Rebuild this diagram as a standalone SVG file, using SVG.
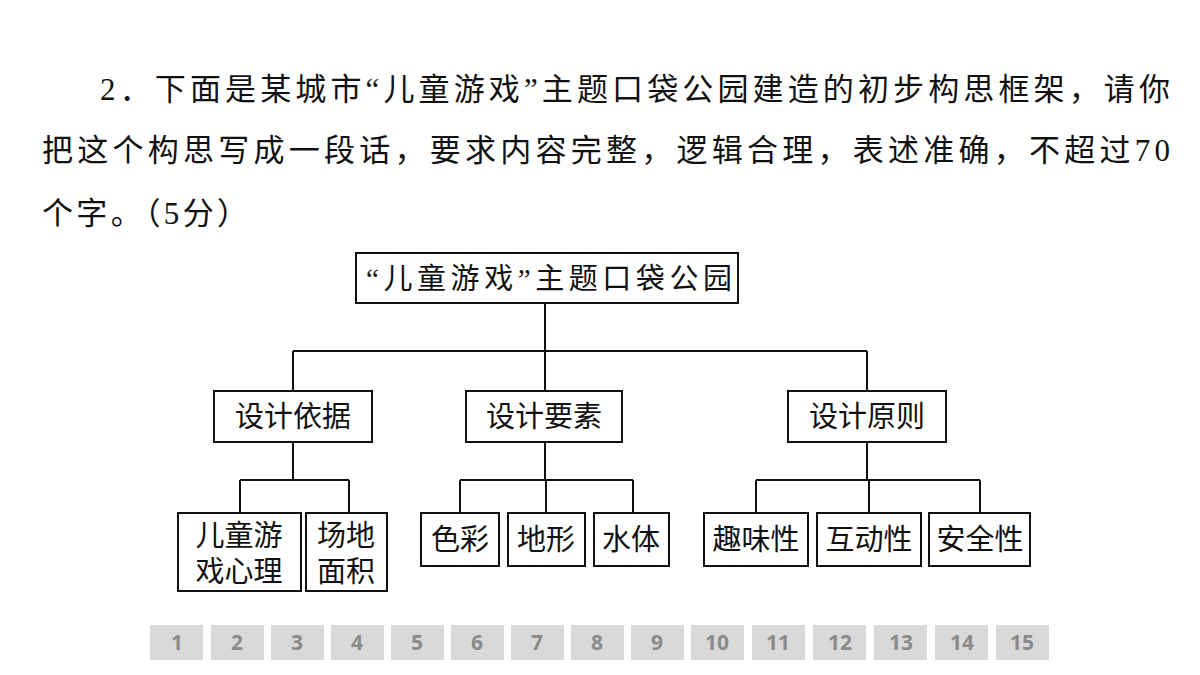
<svg xmlns="http://www.w3.org/2000/svg" width="1200" height="675" viewBox="0 0 1200 675">
<style>
.q{font-family:"Liberation Serif","Noto Sans CJK SC",serif;font-size:31px;fill:#111}
.n{font-family:"Liberation Serif","Noto Sans CJK SC",serif;font-size:29px;fill:#111;text-anchor:middle}
.b{fill:#fff;stroke:#111;stroke-width:2}
.c{fill:none;stroke:#111;stroke-width:2}
.p{fill:#d9d9d9}
.pt{font-family:"Open Sans","DejaVu Sans",sans-serif;font-size:21px;font-weight:bold;fill:#8a8a8a;text-anchor:middle}
</style>
<rect width="1200" height="675" fill="#fff"/>
<text class="q" x="100" y="100" textLength="1070" lengthAdjust="spacing">2．下面是某城市“儿童游戏”主题口袋公园建造的初步构思框架，请你</text>
<text class="q" x="42" y="161" textLength="1128" lengthAdjust="spacing">把这个构思写成一段话，要求内容完整，逻辑合理，表述准确，不超过70</text>
<text class="q" x="42" y="224" textLength="206" lengthAdjust="spacing">个字。（5分）</text>
<g id="connectors">
<path class="c" d="M545 303V351M293 351H867M293 351V391M545 351V391M867 351V391"/>
<path class="c" d="M293 442V480M240 480H349M240 480V513M349 480V513"/>
<path class="c" d="M545 442V480M460 480H633M460 480V513M546 480V513M633 480V513"/>
<path class="c" d="M867 442V480M756 480H980M756 480V513M869 480V513M980 480V513"/>
</g>
<g id="root"><rect class="b" x="356" y="253" width="382" height="50"/><text class="n" x="366" y="289" style="text-anchor:start" textLength="366" lengthAdjust="spacing">“儿童游戏”主题口袋公园</text></g>
<g id="n1"><rect class="b" x="214" y="391" width="158" height="51"/><text class="n" x="293" y="427">设计依据</text></g>
<g id="n2"><rect class="b" x="466" y="391" width="156" height="51"/><text class="n" x="544" y="427">设计要素</text></g>
<g id="n3"><rect class="b" x="788" y="391" width="158" height="51"/><text class="n" x="867" y="427">设计原则</text></g>
<g id="l1"><rect class="b" x="178" y="513" width="123" height="78"/><text class="n" x="239" y="546">儿童游</text><text class="n" x="239" y="582">戏心理</text></g>
<g id="l2"><rect class="b" x="306" y="513" width="81" height="78"/><text class="n" x="346" y="546">场地</text><text class="n" x="346" y="582">面积</text></g>
<g id="l3"><rect class="b" x="421" y="513" width="78" height="53"/><text class="n" x="460" y="550">色彩</text></g>
<g id="l4"><rect class="b" x="508" y="513" width="77" height="53"/><text class="n" x="546" y="550">地形</text></g>
<g id="l5"><rect class="b" x="594" y="513" width="75" height="53"/><text class="n" x="631" y="550">水体</text></g>
<g id="l6"><rect class="b" x="704" y="513" width="104" height="53"/><text class="n" x="756" y="550">趣味性</text></g>
<g id="l7"><rect class="b" x="817" y="513" width="104" height="53"/><text class="n" x="869" y="550">互动性</text></g>
<g id="l8"><rect class="b" x="929" y="513" width="101" height="53"/><text class="n" x="980" y="550">安全性</text></g>
<g id="pages">
<rect class="p" x="150" y="625" width="53" height="35"/><text class="pt" x="177" y="650">1</text>
<rect class="p" x="211" y="625" width="53" height="35"/><text class="pt" x="237" y="650">2</text>
<rect class="p" x="271" y="625" width="53" height="35"/><text class="pt" x="297" y="650">3</text>
<rect class="p" x="331" y="625" width="53" height="35"/><text class="pt" x="357" y="650">4</text>
<rect class="p" x="391" y="625" width="53" height="35"/><text class="pt" x="417" y="650">5</text>
<rect class="p" x="451" y="625" width="53" height="35"/><text class="pt" x="477" y="650">6</text>
<rect class="p" x="511" y="625" width="53" height="35"/><text class="pt" x="537" y="650">7</text>
<rect class="p" x="571" y="625" width="53" height="35"/><text class="pt" x="597" y="650">8</text>
<rect class="p" x="631" y="625" width="53" height="35"/><text class="pt" x="657" y="650">9</text>
<rect class="p" x="691" y="625" width="53" height="35"/><text class="pt" x="717" y="650">10</text>
<rect class="p" x="752" y="625" width="53" height="35"/><text class="pt" x="778" y="650">11</text>
<rect class="p" x="813" y="625" width="53" height="35"/><text class="pt" x="840" y="650">12</text>
<rect class="p" x="874" y="625" width="53" height="35"/><text class="pt" x="901" y="650">13</text>
<rect class="p" x="935" y="625" width="53" height="35"/><text class="pt" x="962" y="650">14</text>
<rect class="p" x="996" y="625" width="53" height="35"/><text class="pt" x="1022" y="650">15</text>
</g>
</svg>
